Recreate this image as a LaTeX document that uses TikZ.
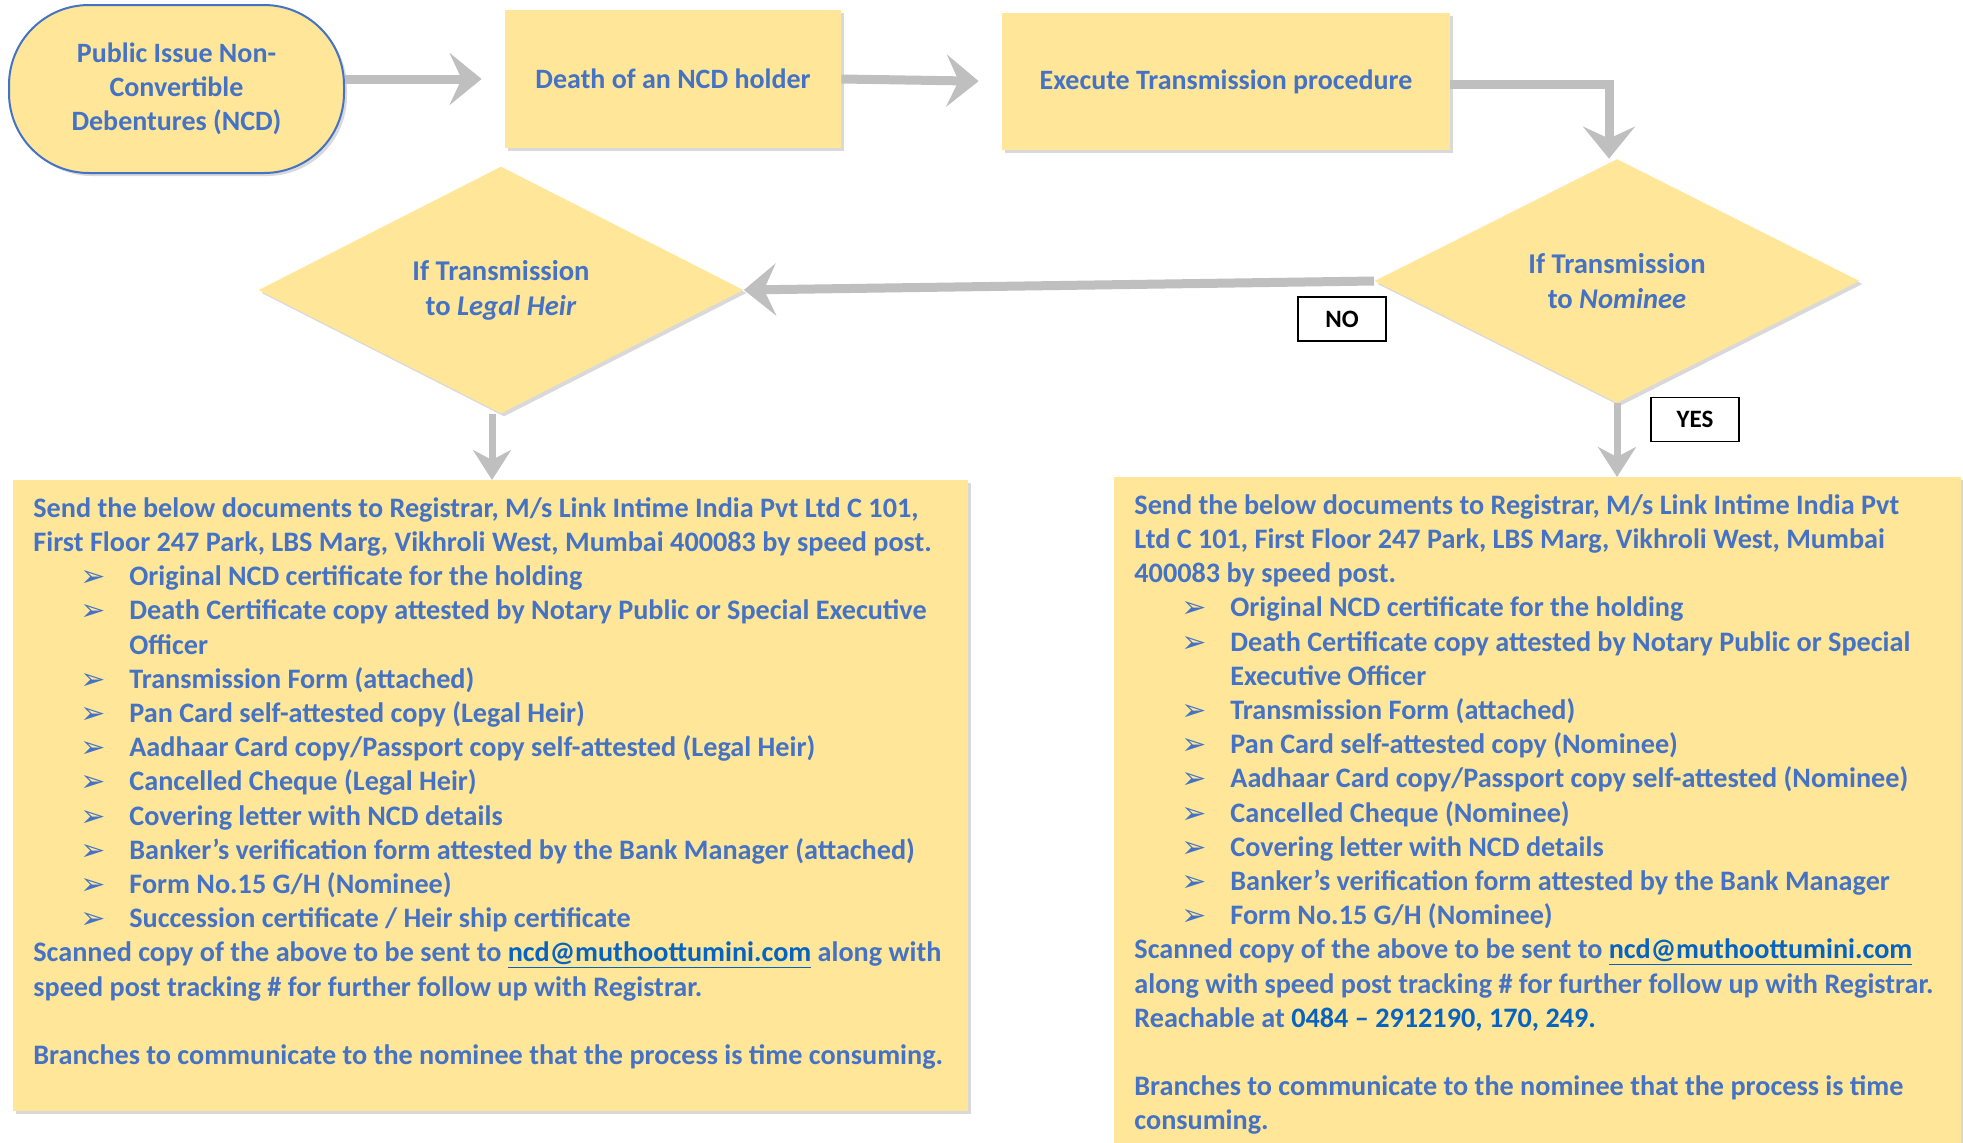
\documentclass[tikz,border=0pt]{standalone}
\usepackage{fontspec}
\setmainfont{Carlito}
\newfontfamily\symfont{DejaVu Sans}
\usetikzlibrary{shapes.geometric,arrows.meta,shadows}
\definecolor{ncdblue}{HTML}{4472C4}
\definecolor{ncdfill}{HTML}{FFE699}
\definecolor{ncdgray}{HTML}{BFBFBF}
\definecolor{linkblue}{HTML}{0563C1}
\newcommand\bul{\raisebox{-0.5pt}{\fontsize{15}{15}\selectfont\symfont ➢}}
\newcommand\itm{\hspace*{23.5pt}\makebox[24.5pt][l]{\bul}}
\newcommand\cont{\hspace*{48pt}}
\newcommand\mail{\textcolor{linkblue}{\underline{ncd@muthoottumini.com}}}
\begin{document}
\begin{tikzpicture}[x=0.5pt,y=-0.5pt,
  every node/.style={text=ncdblue,font=\bfseries},
  shade/.style={drop shadow={shadow xshift=1.5pt,shadow yshift=-1.5pt,opacity=0.3}},
  start/.style={shade,draw=ncdblue,line width=1pt,fill=ncdfill,rounded corners=40pt,
    minimum width=167.5pt,minimum height=84pt,align=center,
    font=\bfseries\fontsize{14}{17}\selectfont},
  stepbox/.style={shade,fill=ncdfill,font=\bfseries\fontsize{14}{17}\selectfont},
  decision/.style={shade,diamond,fill=ncdfill,inner sep=0pt,align=center,
    minimum width=242.5pt,minimum height=122pt,
    font=\bfseries\fontsize{14.3}{17.5}\selectfont},
  panel/.style={shade,fill=ncdfill,anchor=north west,inner sep=0pt},
  listtext/.style={anchor=north west,align=left,inner sep=0pt,
    font=\bfseries\fontsize{14.1}{17.1}\selectfont},
  answer/.style={draw=black,fill=white,text=black,line width=0.6pt,
    minimum width=44pt,minimum height=22pt,inner sep=0pt,
    font=\bfseries\fontsize{12.5}{13}\selectfont},
  flow/.style={draw=ncdgray,line width=4.5pt,-{Stealth[length=16pt,width=26pt,inset=6pt]}},
  down/.style={draw=ncdgray,line width=3.5pt,-{Stealth[length=15pt,width=19pt,inset=5pt]}}
]
  \useasboundingbox (0,0) rectangle (1963,1142);
  % top row
  \node[start] (ncd) at (176.5,89) {Public Issue Non-\\Convertible\\Debentures (NCD)};
  \node[stepbox,minimum width=168pt,minimum height=69pt] (death) at (673,79) {Death of an NCD holder};
  \node[stepbox,minimum width=224pt,minimum height=68.5pt] (exec) at (1226,81.5) {Execute Transmission procedure};
  % decisions
  \node[decision] (nominee) at (1617,281) {If Transmission\\to \textit{Nominee}};
  \node[decision,minimum height=123.5pt] (heir) at (501,290) {If Transmission\\to \textit{Legal Heir}};
  \node[answer] (no) at (1342,319) {NO};
  \node[answer] (yes) at (1695,419.5) {YES};
  % document panels
  \node[panel,minimum width=477.5pt,minimum height=315.5pt] (lbox) at (13,480) {};
  \node[panel,minimum width=423.5pt,minimum height=340pt] (rbox) at (1114,477) {};
  \node[listtext] (ltext) at (33,497) {%
    Send the below documents to Registrar, M/s Link Intime India Pvt Ltd C 101,\\
    First Floor 247 Park, LBS Marg, Vikhroli West, Mumbai 400083 by speed post.\\
    \itm Original NCD certificate for the holding\\
    \itm Death Certificate copy attested by Notary Public or Special Executive\\
    \cont Officer\\
    \itm Transmission Form (attached)\\
    \itm Pan Card self-attested copy (Legal Heir)\\
    \itm Aadhaar Card copy/Passport copy self-attested (Legal Heir)\\
    \itm Cancelled Cheque (Legal Heir)\\
    \itm Covering letter with NCD details\\
    \itm Banker’s verification form attested by the Bank Manager (attached)\\
    \itm Form No.15 G/H (Nominee)\\
    \itm Succession certificate / Heir ship certificate\\
    Scanned copy of the above to be sent to \mail{} along with\\
    speed post tracking \# for further follow up with Registrar.\\[17.1pt]
    Branches to communicate to the nominee that the process is time consuming.};
  \node[listtext] (rtext) at (1134,494) {%
    Send the below documents to Registrar, M/s Link Intime India Pvt\\
    Ltd C 101, First Floor 247 Park, LBS Marg, Vikhroli West, Mumbai\\
    400083 by speed post.\\
    \itm Original NCD certificate for the holding\\
    \itm Death Certificate copy attested by Notary Public or Special\\
    \cont Executive Officer\\
    \itm Transmission Form (attached)\\
    \itm Pan Card self-attested copy (Nominee)\\
    \itm Aadhaar Card copy/Passport copy self-attested (Nominee)\\
    \itm Cancelled Cheque (Nominee)\\
    \itm Covering letter with NCD details\\
    \itm Banker’s verification form attested by the Bank Manager\\
    \itm Form No.15 G/H (Nominee)\\
    Scanned copy of the above to be sent to \mail\\
    along with speed post tracking \# for further follow up with Registrar.\\
    Reachable at \textcolor{linkblue}{0484 – 2912190, 170, 249.}\\[17.1pt]
    Branches to communicate to the nominee that the process is time\\
    consuming.};
  % connectors
  \draw[flow,shorten >=11.5pt] (ncd.east |- death.west) -- (death.west);
  \draw[flow,shorten >=11.5pt] (death.east) -- (exec.west);
  \draw[flow] ([yshift=-1.5pt]exec.east) -| ([xshift=-4pt]nominee.north);
  \draw[flow] (nominee.west) -- (heir.east);
  \draw[down] ([xshift=-4.5pt]heir.south) -- ([xshift=-4.5pt]heir.south |- lbox.north);
  \draw[down] (nominee.south) -- (nominee.south |- rbox.north);
\end{tikzpicture}
\end{document}
